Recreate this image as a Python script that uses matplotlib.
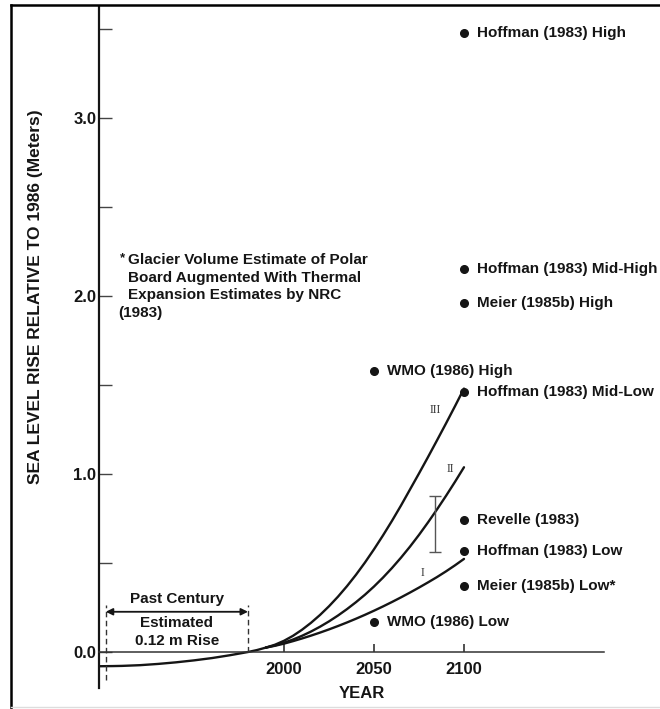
import matplotlib
matplotlib.use("Agg")
import matplotlib.pyplot as plt
from matplotlib.lines import Line2D

# ---------------- data ----------------
past_years = [1897, 1905, 1910, 1920, 1930, 1940, 1950, 1960, 1970, 1980, 1985, 1990]
past_rise = [-0.08, -0.079, -0.078, -0.074, -0.067, -0.058, -0.047, -0.034, -0.018, 0.0, 0.011, 0.025]

proj_years = [1990, 1995, 2000, 2005, 2010, 2015, 2020, 2025, 2030, 2035, 2040, 2045,
              2050, 2055, 2060, 2065, 2070, 2075, 2080, 2085, 2090, 2095, 2100]
scenario_I = [0.025, 0.035, 0.047, 0.061, 0.076, 0.092, 0.109, 0.127, 0.146, 0.166, 0.187, 0.209,
              0.232, 0.256, 0.281, 0.307, 0.334, 0.362, 0.391, 0.421, 0.453, 0.487, 0.523]
scenario_II = [0.025, 0.037, 0.052, 0.070, 0.091, 0.115, 0.142, 0.172, 0.205, 0.241, 0.280, 0.322,
               0.368, 0.418, 0.472, 0.530, 0.592, 0.658, 0.728, 0.801, 0.877, 0.956, 1.038]
scenario_III = [0.025, 0.041, 0.063, 0.091, 0.125, 0.164, 0.208, 0.257, 0.311, 0.370, 0.434, 0.503,
                0.577, 0.655, 0.737, 0.823, 0.913, 1.003, 1.095, 1.189, 1.284, 1.381, 1.48]
scenario_names = ["I", "II", "III"]
scenario_label_pos = [(2077, 0.445), (2092.6, 1.03), (2084.3, 1.36)]

point_years = [2100, 2100, 2100, 2050, 2100, 2100, 2100, 2100, 2050]
point_values = [3.48, 2.15, 1.96, 1.58, 1.46, 0.74, 0.57, 0.37, 0.17]
point_labels = ["Hoffman (1983) High", "Hoffman (1983) Mid-High", "Meier (1985b) High",
                "WMO (1986) High", "Hoffman (1983) Mid-Low", "Revelle (1983)",
                "Hoffman (1983) Low", "Meier (1985b) Low*", "WMO (1986) Low"]

errbar_year = 2084
errbar_low = 0.563
errbar_high = 0.876

century_start = 1901
century_end = 1980

ytick_vals = [0.0, 1.0, 2.0, 3.0]
ytick_labels = ["0.0", "1.0", "2.0", "3.0"]
yminor_vals = [0.5, 1.5, 2.5, 3.5]
xtick_vals = [2000, 2050, 2100]
xtick_labels = ["2000", "2050", "2100"]

note_lines = ["Board Augmented With Thermal", "Expansion Estimates by NRC"]
note_first = "Glacier Volume Estimate of Polar"
note_last = "(1983)"

# ---------------- figure ----------------
W, H = 660, 709
fig = plt.figure(figsize=(W / 100, H / 100), dpi=100)
plt.rcParams['font.family'] = ['Liberation Sans', 'DejaVu Sans']
ink = "#151515"
fs = 11

ax_left, ax_right, ax_top, ax_bottom = 99, 660, 7, 688
ax = fig.add_axes([ax_left / W, (H - ax_bottom) / H, (ax_right - ax_left) / W, (ax_bottom - ax_top) / H])
ax.set_xlim(1897.22, 2208.9)
ax.set_ylim(-0.2022, 3.6236)
ax.patch.set_alpha(0)

for s in ["top", "right"]:
    ax.spines[s].set_visible(False)
ax.spines["left"].set_linewidth(1.6)
ax.spines["left"].set_color(ink)
ax.spines["bottom"].set_position(("data", 0))
ax.spines["bottom"].set_bounds(1897.22, 2178)
ax.spines["bottom"].set_linewidth(1.1)
ax.spines["bottom"].set_color("#333333")

ax.set_yticks(ytick_vals)
ax.set_yticklabels(ytick_labels)
ax.set_yticks(yminor_vals, minor=True)
ax.tick_params(axis="y", which="both", direction="in", length=9.5, width=1.0, color="#444444",
               pad=2, labelsize=12, labelcolor=ink)
ax.set_xticks(xtick_vals)
ax.set_xticklabels(xtick_labels)
ax.tick_params(axis="x", which="major", direction="in", length=6, width=1.2, color="#333333",
               pad=7, labelsize=12, labelcolor=ink)
for lab in ax.get_xticklabels() + ax.get_yticklabels():
    lab.set_fontweight("bold")

# curves
ax.plot(past_years, past_rise, color=ink, lw=1.7, solid_capstyle="round", solid_joinstyle="round")
for vals in (scenario_I, scenario_II, scenario_III):
    ax.plot(proj_years, vals, color=ink, lw=1.7, solid_capstyle="round", solid_joinstyle="round")
for name, (xx, yy) in zip(scenario_names, scenario_label_pos):
    ax.text(xx, yy, name, fontsize=8.5, color="#333333", ha="center", va="center",
            family=["Liberation Serif", "DejaVu Serif"])

# error bar
ax.errorbar([errbar_year], [(errbar_low + errbar_high) / 2], yerr=[(errbar_high - errbar_low) / 2],
            fmt="none", ecolor="#555555", elinewidth=1.0, capsize=4, capthick=1.0)

# points
ax.plot(point_years, point_values, "o", color=ink, markersize=5.5, linestyle="none")
for xx, yy, lab in zip(point_years, point_values, point_labels):
    ax.annotate(lab, (xx, yy), xytext=(13, 0), textcoords="offset pixels", fontsize=fs,
                fontweight="bold", color=ink, ha="left", va="center")

# past century bracket
ax.plot([century_start, century_start], [-0.157, 0.265], color="#333333", lw=1.0, ls=(0, (4, 2.5)))
ax.plot([century_end, century_end], [0.0, 0.265], color="#333333", lw=1.0, ls=(0, (4, 2.5)))
ax.annotate("", xy=(century_start, 0.226), xytext=(century_end, 0.226),
            arrowprops=dict(arrowstyle="<|-|>", color=ink, lw=1.3, mutation_scale=10,
                            shrinkA=0, shrinkB=0))
mid = (century_start + century_end) / 2
ax.text(mid, 0.298, "Past Century", fontsize=fs, fontweight="bold", color=ink, ha="center", va="center")
ax.text(mid, 0.163, "Estimated", fontsize=fs, fontweight="bold", color=ink, ha="center", va="center")
ax.text(mid, 0.062, "0.12 m Rise", fontsize=fs, fontweight="bold", color=ink, ha="center", va="center")

# note
ax.text(1908.6, 2.21, "*", fontsize=9.5, fontweight="bold", color=ink, ha="left", va="center")
ax.text(1913.3, 2.202, note_first, fontsize=fs, fontweight="bold", color=ink, ha="left", va="center")
for i, line in enumerate(note_lines):
    ax.text(1913.3, 2.103 - 0.0995 * i, line, fontsize=fs, fontweight="bold", color=ink,
            ha="left", va="center")
ax.text(1907.8, 1.904, note_last, fontsize=fs, fontweight="bold", color=ink, ha="left", va="center")

# axis titles
fig.text(36 / W, 1 - 297 / H, "SEA LEVEL RISE RELATIVE TO 1986 (Meters)", rotation=90,
         fontsize=12.5, fontweight="bold", color=ink, ha="center", va="center")
fig.text(362 / W, 1 - 694 / H, "YEAR", fontsize=12, fontweight="bold", color=ink,
         ha="center", va="center")

# page frame
fig.add_artist(Line2D([11 / W, 11 / W], [0, 1 - 5 / H], color="black", lw=1.8, transform=fig.transFigure))
fig.add_artist(Line2D([11 / W, 1], [1 - 5 / H, 1 - 5 / H], color="black", lw=1.8, transform=fig.transFigure))
fig.add_artist(Line2D([11 / W, 1], [1 - 707 / H, 1 - 707 / H], color="#dddddd", lw=1.0, transform=fig.transFigure))

fig.savefig("out.png", dpi=100, facecolor="white")
